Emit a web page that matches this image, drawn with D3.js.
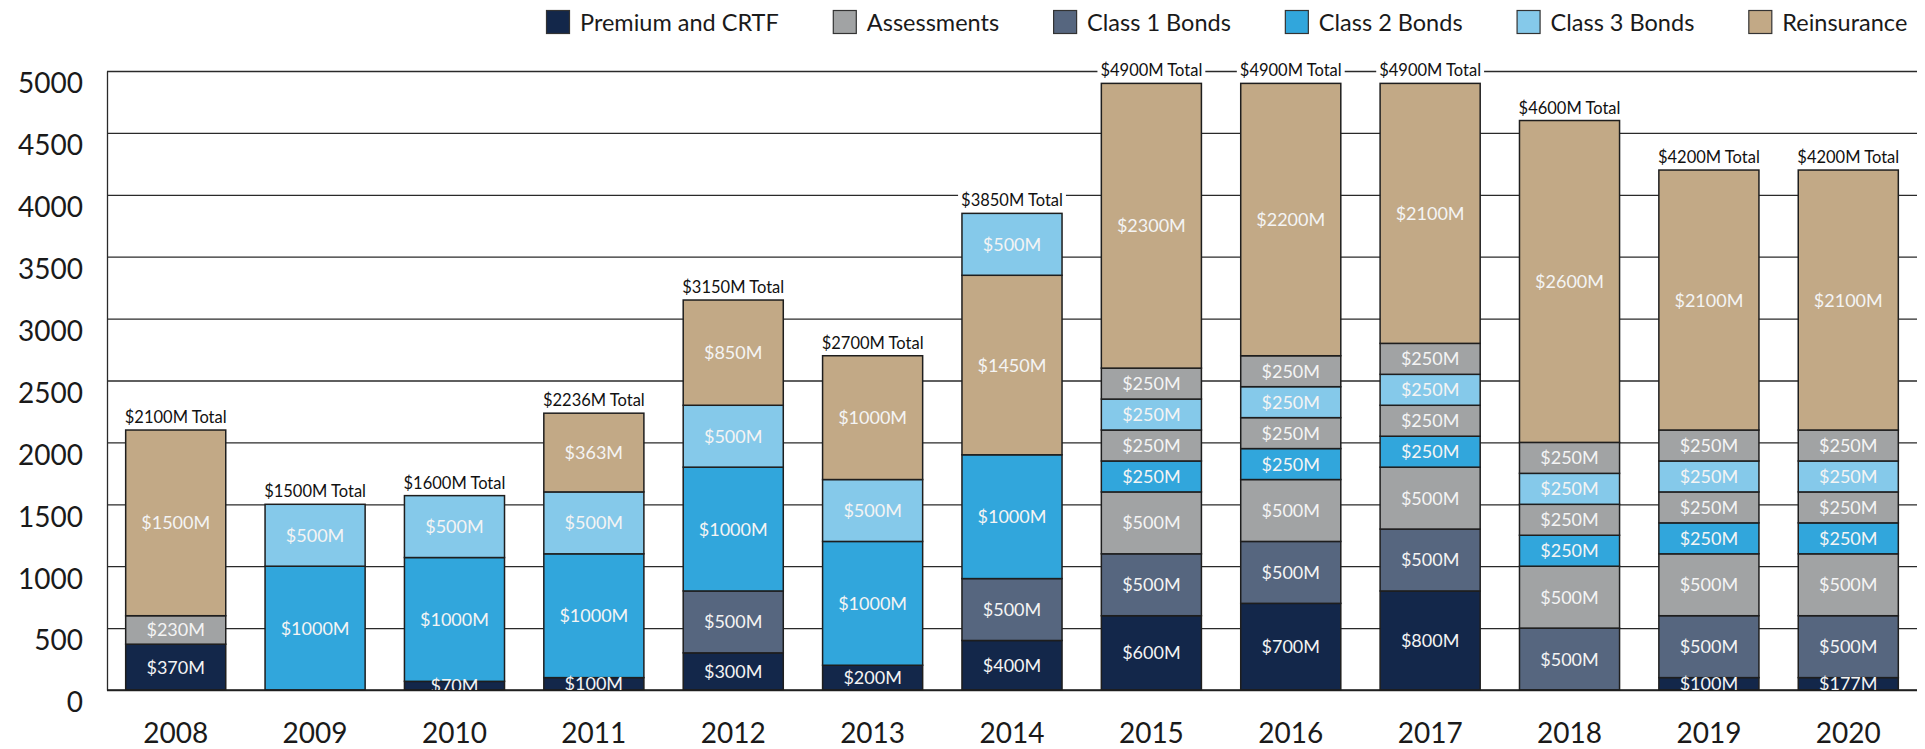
<!DOCTYPE html>
<html>
<head>
<meta charset="utf-8">
<script src="https://cdn.jsdelivr.net/npm/d3@7"></script>
<style>
  body { margin: 0; background: #fff; }
  svg { font-family: Lato, "Open Sans", sans-serif; }
</style>
</head>
<body>
<script>
var w = 1925;
var h = 749;

// data
var years = ["2008", "2009", "2010", "2011", "2012", "2013", "2014", "2015", "2016", "2017", "2018", "2019", "2020"];
var categories = ["Premium and CRTF", "Assessments", "Class 1 Bonds", "Class 2 Bonds", "Class 3 Bonds", "Reinsurance"];
var colors = ["#13274a", "#a1a3a4", "#56667f", "#31a6dc", "#85c9ea", "#c2a986"];

// category index of each stacked piece, bottom to top
var stackCats = [
  [0, 1, 5],
  [3, 4],
  [0, 3, 4],
  [0, 3, 4, 5],
  [0, 2, 3, 4, 5],
  [0, 3, 4, 5],
  [0, 2, 3, 5, 4],
  [0, 2, 1, 3, 1, 4, 1, 5],
  [0, 2, 1, 3, 1, 4, 1, 5],
  [0, 2, 1, 3, 1, 4, 1, 5],
  [2, 1, 3, 1, 4, 1, 5],
  [0, 2, 1, 3, 1, 4, 1, 5],
  [0, 2, 1, 3, 1, 4, 1, 5]
];
// drawn height of each piece ($M)
var stackValues = [
  [370, 230, 1500],
  [1000, 500],
  [70, 1000, 500],
  [100, 1000, 500, 636],
  [300, 500, 1000, 500, 850],
  [200, 1000, 500, 1000],
  [400, 500, 1000, 1450, 500],
  [600, 500, 500, 250, 250, 250, 250, 2300],
  [700, 500, 500, 250, 250, 250, 250, 2200],
  [800, 500, 500, 250, 250, 250, 250, 2100],
  [500, 500, 250, 250, 250, 250, 2600],
  [100, 500, 500, 250, 250, 250, 250, 2100],
  [100, 500, 500, 250, 250, 250, 250, 2100]
];
// amounts printed on each piece ($M)
var stackLabels = [
  [370, 230, 1500],
  [1000, 500],
  [70, 1000, 500],
  [100, 1000, 500, 363],
  [300, 500, 1000, 500, 850],
  [200, 1000, 500, 1000],
  [400, 500, 1000, 1450, 500],
  [600, 500, 500, 250, 250, 250, 250, 2300],
  [700, 500, 500, 250, 250, 250, 250, 2200],
  [800, 500, 500, 250, 250, 250, 250, 2100],
  [500, 500, 250, 250, 250, 250, 2600],
  [100, 500, 500, 250, 250, 250, 250, 2100],
  [177, 500, 500, 250, 250, 250, 250, 2100]
];
var totals = [2100, 1500, 1600, 2236, 3150, 2700, 3850, 4900, 4900, 4900, 4600, 4200, 4200];
var yTicks = [0, 500, 1000, 1500, 2000, 2500, 3000, 3500, 4000, 4500, 5000];

var padL = 107, padR = 1917, padT = 71, padB = 690;

var segs = [];
var barTops = [];
for (var i = 0; i < years.length; i++) {
  var acc = 0;
  for (var j = 0; j < stackValues[i].length; j++) {
    segs.push({
      year: years[i],
      cat: stackCats[i][j],
      y0: acc,
      y1: acc + stackValues[i][j],
      label: "$" + stackLabels[i][j] + "M"
    });
    acc += stackValues[i][j];
  }
  barTops.push(acc);
}

var svg = d3.select("body").append("svg")
    .attr("width", w)
    .attr("height", h);

var xScale = d3.scaleBand()
    .domain(years)
    .range([padL, padR])
    .paddingInner(0.282)
    .paddingOuter(0.134);

var yScale = d3.scaleLinear()
    .domain([0, 5000])
    .range([padB, padT]);

// grid + y labels
var yAxis = d3.axisLeft(yScale)
    .tickValues(yTicks)
    .tickFormat(d3.format("d"))
    .tickSizeInner(-(padR - padL))
    .tickSizeOuter(0)
    .tickPadding(24);

var gy = svg.append("g")
    .attr("class", "y axis")
    .attr("transform", "translate(" + padL + ",0)")
    .call(yAxis)
    .attr("font-family", null)
    .attr("font-size", null);
gy.selectAll(".tick line").attr("stroke", "#2a2a2a").attr("stroke-width", 1.3);
gy.select(".domain").attr("stroke", "#2a2a2a").attr("stroke-width", 1.3);
gy.selectAll(".tick text")
    .attr("dy", "0.78em")
    .attr("fill", "#1a1a1a")
    .style("font-size", "28px");

var xAxis = d3.axisBottom(xScale).tickSize(0).tickPadding(33);
var gx = svg.append("g")
    .attr("class", "x axis")
    .attr("transform", "translate(0," + padB + ")")
    .call(xAxis)
    .attr("font-family", null)
    .attr("font-size", null);
gx.select(".domain").remove();
gx.selectAll(".tick text")
    .attr("fill", "#1a1a1a")
    .style("font-size", "28px");

// bars
svg.append("g").selectAll("rect")
    .data(segs)
    .enter()
    .append("rect")
    .attr("x", function(d) { return xScale(d.year); })
    .attr("y", function(d) { return yScale(d.y1); })
    .attr("width", xScale.bandwidth())
    .attr("height", function(d) { return yScale(d.y0) - yScale(d.y1); })
    .attr("fill", function(d) { return colors[d.cat]; })
    .attr("stroke", "#1e1e1e")
    .attr("stroke-width", 1.5);

svg.append("line")
    .attr("x1", padL).attr("x2", padR)
    .attr("y1", padB).attr("y2", padB)
    .attr("stroke", "#1e1e1e")
    .attr("stroke-width", 1.6);

svg.append("clipPath").attr("id", "plotclip")
    .append("rect")
    .attr("x", 0).attr("y", 0)
    .attr("width", w).attr("height", padB);

svg.append("g")
    .attr("clip-path", "url(#plotclip)")
    .selectAll("text")
    .data(segs)
    .enter()
    .append("text")
    .attr("x", function(d) { return xScale(d.year) + xScale.bandwidth() / 2; })
    .attr("y", function(d) { return (yScale(d.y0) + yScale(d.y1)) / 2; })
    .attr("dy", "0.36em")
    .attr("text-anchor", "middle")
    .attr("fill", "#f4f4f4")
    .style("font-size", "18px")
    .text(function(d) { return d.label; });

// totals
var tg = svg.append("g").selectAll("g")
    .data(years)
    .enter()
    .append("g");

tg.append("rect").attr("fill", "#fff");
tg.append("text")
    .attr("x", function(d) { return xScale(d) + xScale.bandwidth() / 2; })
    .attr("y", function(d, i) { return yScale(barTops[i]) - 7; })
    .attr("text-anchor", "middle")
    .attr("fill", "#111")
    .style("font-size", "16.5px")
    .text(function(d, i) { return "$" + totals[i] + "M Total"; });

tg.each(function() {
  var g = d3.select(this);
  var b = g.select("text").node().getBBox();
  g.select("rect")
      .attr("x", b.x - 3)
      .attr("y", b.y)
      .attr("width", b.width + 6)
      .attr("height", b.height);
});

// legend
var legend = svg.append("g").attr("class", "legend");
var lx = 546;
categories.forEach(function(c, i) {
  var item = legend.append("g").attr("transform", "translate(" + lx + ",10)");
  item.append("rect")
      .attr("width", 23).attr("height", 23)
      .attr("x", 0.5).attr("y", 0.5)
      .attr("fill", colors[i])
      .attr("stroke", "#333")
      .attr("stroke-width", 1.2);
  var t = item.append("text")
      .attr("x", 34)
      .attr("y", 20.5)
      .attr("fill", "#1a1a1a")
      .style("font-size", "23.5px")
      .text(c);
  lx += 34 + t.node().getComputedTextLength() + 54;
});
</script>
</body>
</html>
